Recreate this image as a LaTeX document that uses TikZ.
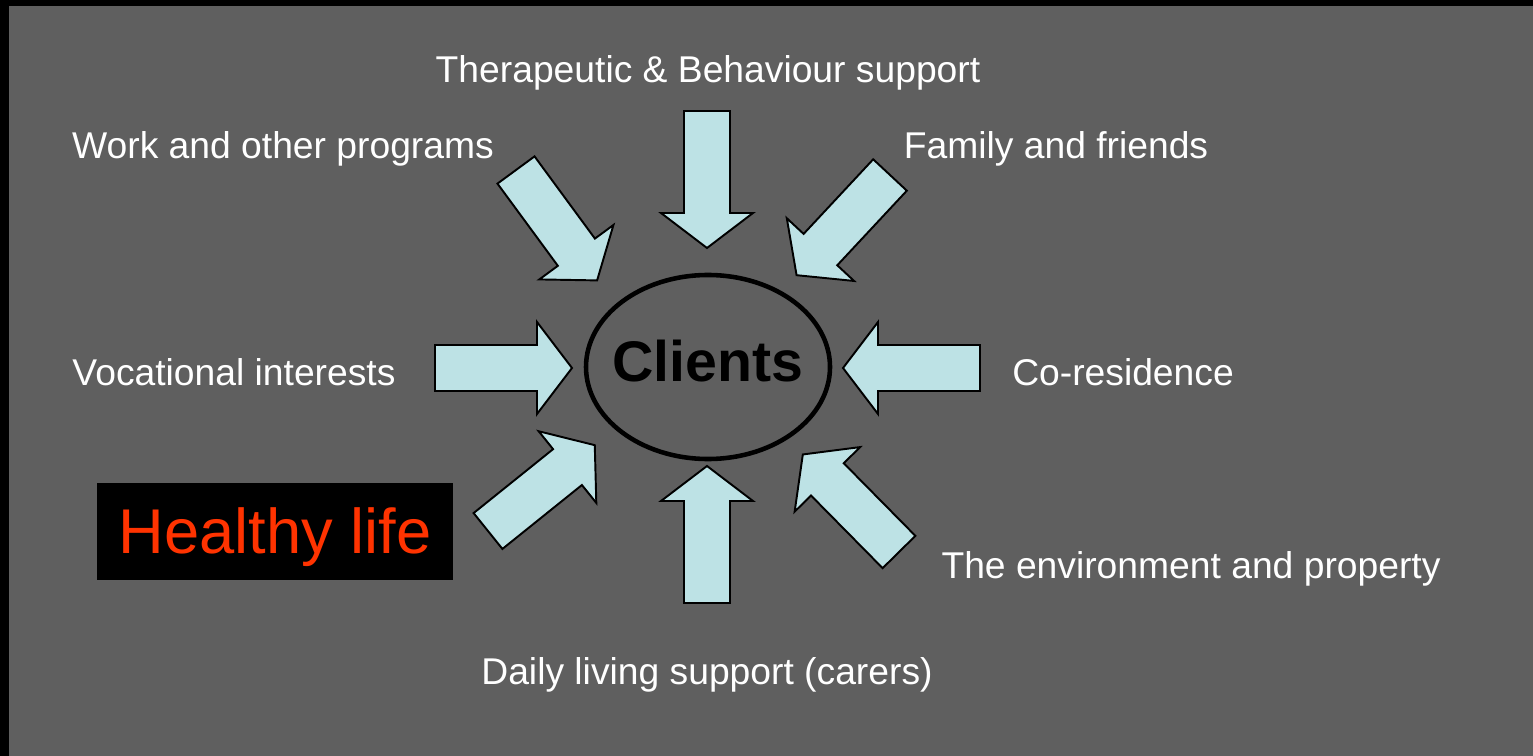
\documentclass[tikz,border=0pt]{standalone}
\usepackage{fontspec}
\setmainfont{Liberation Sans}
\definecolor{slide}{RGB}{95,95,95}
\definecolor{pale}{RGB}{189,226,229}
\definecolor{warm}{RGB}{255,51,0}
\tikzset{
  aspect/.style={text=white,font=\fontsize{21.2}{25}\selectfont},
  blockarrow/.style={draw=black,line width=1.1pt,fill=pale,line join=miter}
}
\begin{document}
\begin{tikzpicture}[x=0.02cm,y=-0.02cm]
\useasboundingbox (0,0) rectangle (1533,756);
\fill[black] (0,0) rectangle (1533,756);
\fill[slide] (9,6) rectangle (1533,756);
% the client in the middle
\coordinate (hub) at (708,367);
\draw[line width=2.6pt] (hub) ellipse [x radius=122,y radius=92];
\node[font=\fontsize{32.6}{38}\selectfont\bfseries] (clients) at (708,361) {Clients};
% block arrows: tail point / angle
\foreach \x/\y/\a in {707/111/-90, 707/603/90, 435/368/0, 980/368/180,
  516/170/-53.7, 890/175/-133, 488/531/38.8, 899/552/134.6}
  \draw[blockarrow,shift={(\x,\y)},rotate=\a]
    (0,23) -- (102,23) -- (102,46) -- (137,0) -- (102,-46) -- (102,-23) -- (0,-23) -- cycle;
% what surrounds the clients
\node[aspect] (therapy) at (708,73) {Therapeutic \& Behaviour support};
\node[aspect] (work) at (283,149) {Work and other programs};
\node[aspect] (family) at (1056,149) {Family and friends};
\node[aspect] (vocation) at (234,372) {Vocational interests};
\node[aspect] (coresidence) at (1123,372) {Co-residence};
\node[aspect] (environment) at (1191,569) {The environment and property};
\node[aspect] (daily) at (707,675) {Daily living support (carers)};
\node[fill=black,text=warm,font=\fontsize{36}{42}\selectfont,text depth=0pt,
  minimum width=356*0.02cm,minimum height=97*0.02cm] (healthy) at (275,531) {Healthy life};
\end{tikzpicture}
\end{document}
